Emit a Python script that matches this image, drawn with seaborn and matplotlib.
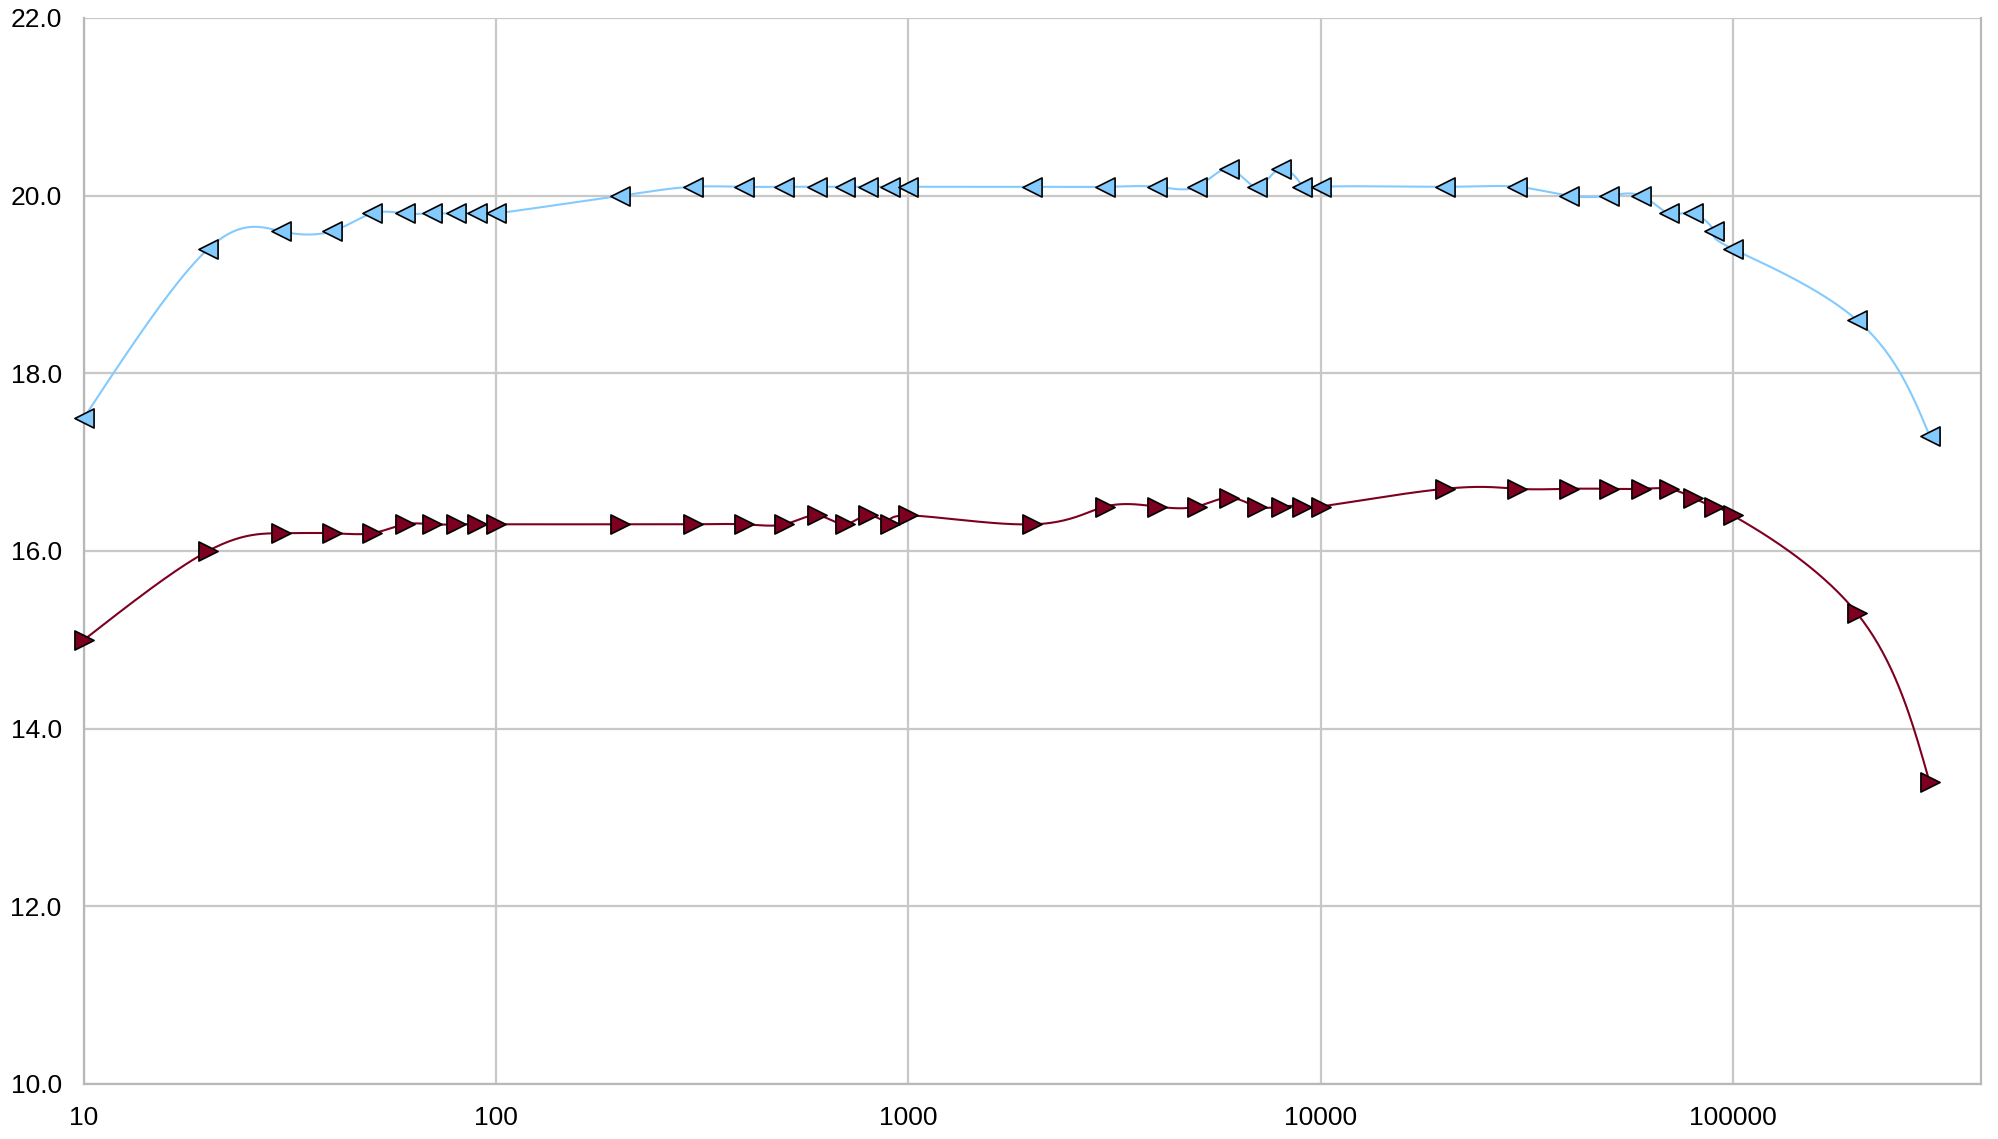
import numpy as np
import pandas as pd
import matplotlib
matplotlib.use("Agg")
import matplotlib.pyplot as plt
import matplotlib.ticker as mticker
import seaborn as sns

# ---- data ----
x_vals = [10, 20, 30, 40, 50, 60, 70, 80, 90, 100,
          200, 300, 400, 500, 600, 700, 800, 900, 1000,
          2000, 3000, 4000, 5000, 6000, 7000, 8000, 9000, 10000,
          20000, 30000, 40000, 50000, 60000, 70000, 80000, 90000, 100000,
          200000, 300000]
blue_vals = [17.5, 19.4, 19.6, 19.6, 19.8, 19.8, 19.8, 19.8, 19.8, 19.8,
             20.0, 20.1, 20.1, 20.1, 20.1, 20.1, 20.1, 20.1, 20.1,
             20.1, 20.1, 20.1, 20.1, 20.3, 20.1, 20.3, 20.1, 20.1,
             20.1, 20.1, 20.0, 20.0, 20.0, 19.8, 19.8, 19.6, 19.4,
             18.6, 17.3]
red_vals = [15.0, 16.0, 16.2, 16.2, 16.2, 16.3, 16.3, 16.3, 16.3, 16.3,
            16.3, 16.3, 16.3, 16.3, 16.4, 16.3, 16.4, 16.3, 16.4,
            16.3, 16.5, 16.5, 16.5, 16.6, 16.5, 16.5, 16.5, 16.5,
            16.7, 16.7, 16.7, 16.7, 16.7, 16.7, 16.6, 16.5, 16.4,
            15.3, 13.4]
y_ticks = [10.0, 12.0, 14.0, 16.0, 18.0, 20.0, 22.0]
x_ticks = [10, 100, 1000, 10000, 100000]

BLUE = "#83CAFF"
RED = "#7E0021"


def eval_natural(t, v, n_per=40):
    t = np.asarray(t, float)
    v = np.asarray(v, float)
    n = len(t)
    h = np.diff(t)
    A = np.zeros((n, n))
    b = np.zeros(n)
    A[0, 0] = 1
    A[-1, -1] = 1
    for i in range(1, n - 1):
        A[i, i - 1] = h[i - 1]
        A[i, i] = 2 * (h[i - 1] + h[i])
        A[i, i + 1] = h[i]
        b[i] = 3 * ((v[i + 1] - v[i]) / h[i] - (v[i] - v[i - 1]) / h[i - 1])
    c = np.linalg.solve(A, b)
    out = []
    for i in range(n - 1):
        bi = (v[i + 1] - v[i]) / h[i] - h[i] * (2 * c[i] + c[i + 1]) / 3
        di = (c[i + 1] - c[i]) / (3 * h[i])
        s = np.linspace(0, h[i], n_per, endpoint=(i == n - 2))
        out.append(v[i] + bi * s + c[i] * s ** 2 + di * s ** 3)
    return np.concatenate(out)


def parametric_uniform(lx, y):
    """Parametric natural cubic spline, uniform parameter (smoothed line)."""
    t = np.arange(len(lx), dtype=float)
    return eval_natural(t, lx), eval_natural(t, y)


df = pd.DataFrame({"x": x_vals, "blue": blue_vals, "red": red_vals})

sns.set_theme(style="white")
plt.rcParams["font.family"] = ["Liberation Sans", "DejaVu Sans"]

fig = plt.figure(figsize=(19.99, 11.39), dpi=100)
ax = fig.add_axes([0.042, 0.0483, 0.949, 0.9359])

lx = np.log10(df["x"].values)
for col, color, marker in [("blue", BLUE, "<"), ("red", RED, ">")]:
    sxv, syv = parametric_uniform(lx, df[col].values)
    sns.lineplot(x=10 ** sxv, y=syv, ax=ax, color=color, lw=1.5, sort=False,
                 estimator=None, zorder=3)
    sns.scatterplot(x=df["x"], y=df[col], ax=ax, marker=marker, s=190,
                    color=color, edgecolor="black", linewidth=1.2, zorder=4,
                    clip_on=False)

ax.set_xscale("log")
ax.set_xlim(10, 400000)
ax.set_ylim(10, 22)
ax.set_xticks(x_ticks)
ax.xaxis.set_major_formatter(mticker.FuncFormatter(lambda v, p: f"{int(round(v))}"))
ax.xaxis.set_minor_locator(mticker.LogLocator(base=10, subs=np.arange(2, 10)))
ax.xaxis.set_minor_formatter(mticker.NullFormatter())
ax.set_yticks(y_ticks)
ax.yaxis.set_major_formatter(mticker.FormatStrFormatter("%.1f"))
ax.yaxis.set_minor_locator(mticker.MultipleLocator(1.0))

ax.grid(True, which="major", color="#C8C8C8", lw=1.6, zorder=0)
ax.set_axisbelow(True)
for side in ["left", "bottom", "right"]:
    ax.spines[side].set_color("#B8B8B8")
    ax.spines[side].set_linewidth(1.6)
ax.spines["top"].set_visible(False)

ax.tick_params(axis="both", which="major", direction="out", length=10,
               width=1.4, color="#B8B8B8", labelsize=19, labelcolor="black", pad=6)
ax.tick_params(axis="both", which="minor", direction="in", length=7,
               width=1.2, color="#B8B8B8")
ax.set_xlabel("")
ax.set_ylabel("")
if ax.get_legend():
    ax.get_legend().remove()

fig.savefig("out.png", dpi=100)
